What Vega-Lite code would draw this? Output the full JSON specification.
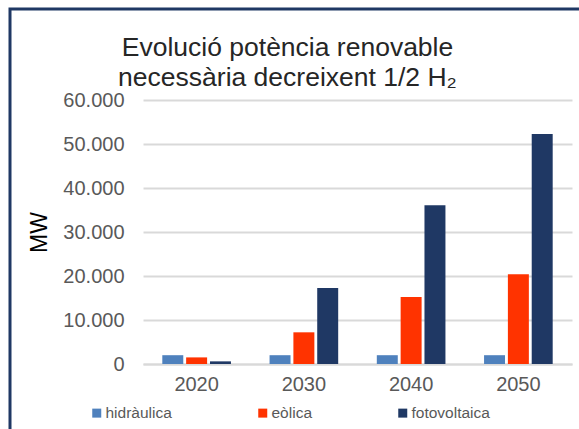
{
  "$schema": "https://vega.github.io/schema/vega-lite/v6.json",
  "width": 569,
  "height": 420,
  "autosize": {"type": "none"},
  "padding": {"left": 10, "top": 9, "right": 0, "bottom": 0},
  "background": "white",
  "title": {
    "text": ["Evolució potència renovable", "necessària decreixent 1/2 H₂"],
    "anchor": "middle",
    "frame": "group",
    "offset": -82,
    "dx": -7,
    "font": "Liberation Sans",
    "fontSize": 26.5,
    "fontWeight": "normal",
    "color": "#262626",
    "lineHeight": 30
  },
  "data": {
    "values": [
      {"any": "2020", "font": "hidràulica", "MW": 2000},
      {"any": "2020", "font": "eòlica", "MW": 1500},
      {"any": "2020", "font": "fotovoltaica", "MW": 600},
      {"any": "2030", "font": "hidràulica", "MW": 2000},
      {"any": "2030", "font": "eòlica", "MW": 7200},
      {"any": "2030", "font": "fotovoltaica", "MW": 17300},
      {"any": "2040", "font": "hidràulica", "MW": 2000},
      {"any": "2040", "font": "eòlica", "MW": 15200},
      {"any": "2040", "font": "fotovoltaica", "MW": 36100},
      {"any": "2050", "font": "hidràulica", "MW": 2000},
      {"any": "2050", "font": "eòlica", "MW": 20400},
      {"any": "2050", "font": "fotovoltaica", "MW": 52300}
    ]
  },
  "mark": {"type": "bar"},
  "encoding": {
    "x": {
      "field": "any",
      "type": "ordinal",
      "scale": {"range": [133, 562], "paddingInner": 0.36, "paddingOuter": 0.18},
      "axis": {
        "title": null,
        "offset": -65,
        "labelAngle": 0,
        "ticks": false,
        "grid": false,
        "domainColor": "#d9d9d9",
        "domainWidth": 2,
        "labelFont": "Liberation Sans",
        "labelFontSize": 20,
        "labelColor": "#595959",
        "labelPadding": 10
      }
    },
    "xOffset": {
      "field": "font",
      "type": "nominal",
      "sort": ["hidràulica", "eòlica", "fotovoltaica"],
      "scale": {"paddingInner": 0.12}
    },
    "y": {
      "field": "MW",
      "type": "quantitative",
      "scale": {"domain": [0, 60000], "range": [355, 91], "nice": false},
      "axis": {
        "title": "MW",
        "offset": -133,
        "labelPadding": 19,
        "domain": false,
        "ticks": false,
        "values": [0, 10000, 20000, 30000, 40000, 50000, 60000],
        "labelExpr": "replace(format(datum.value, ','), regexp(',', 'g'), '.')",
        "labelFont": "Liberation Sans",
        "labelFontSize": 20,
        "labelColor": "#595959",
        "gridColor": "#d9d9d9",
        "gridWidth": 2,
        "titleFont": "Liberation Sans",
        "titleFontSize": 23,
        "titleFontWeight": "normal",
        "titleColor": "#000000",
        "titlePadding": 11
      }
    },
    "color": {
      "field": "font",
      "type": "nominal",
      "scale": {
        "domain": ["hidràulica", "eòlica", "fotovoltaica"],
        "range": ["#4f81bd", "#ff3300", "#1f3864"]
      },
      "legend": {
        "title": null,
        "orient": "none",
        "legendX": 79,
        "legendY": 396,
        "direction": "horizontal",
        "symbolType": "square",
        "symbolSize": 81,
        "symbolStrokeWidth": 0,
        "labelFont": "Liberation Sans",
        "labelFontSize": 15.5,
        "labelColor": "#595959",
        "labelOffset": 1,
        "columnPadding": 83,
        "padding": 0
      }
    }
  },
  "config": {
    "view": {"stroke": "#1f3864", "strokeWidth": 3, "strokeDash": [569, 989, 420]}
  }
}
